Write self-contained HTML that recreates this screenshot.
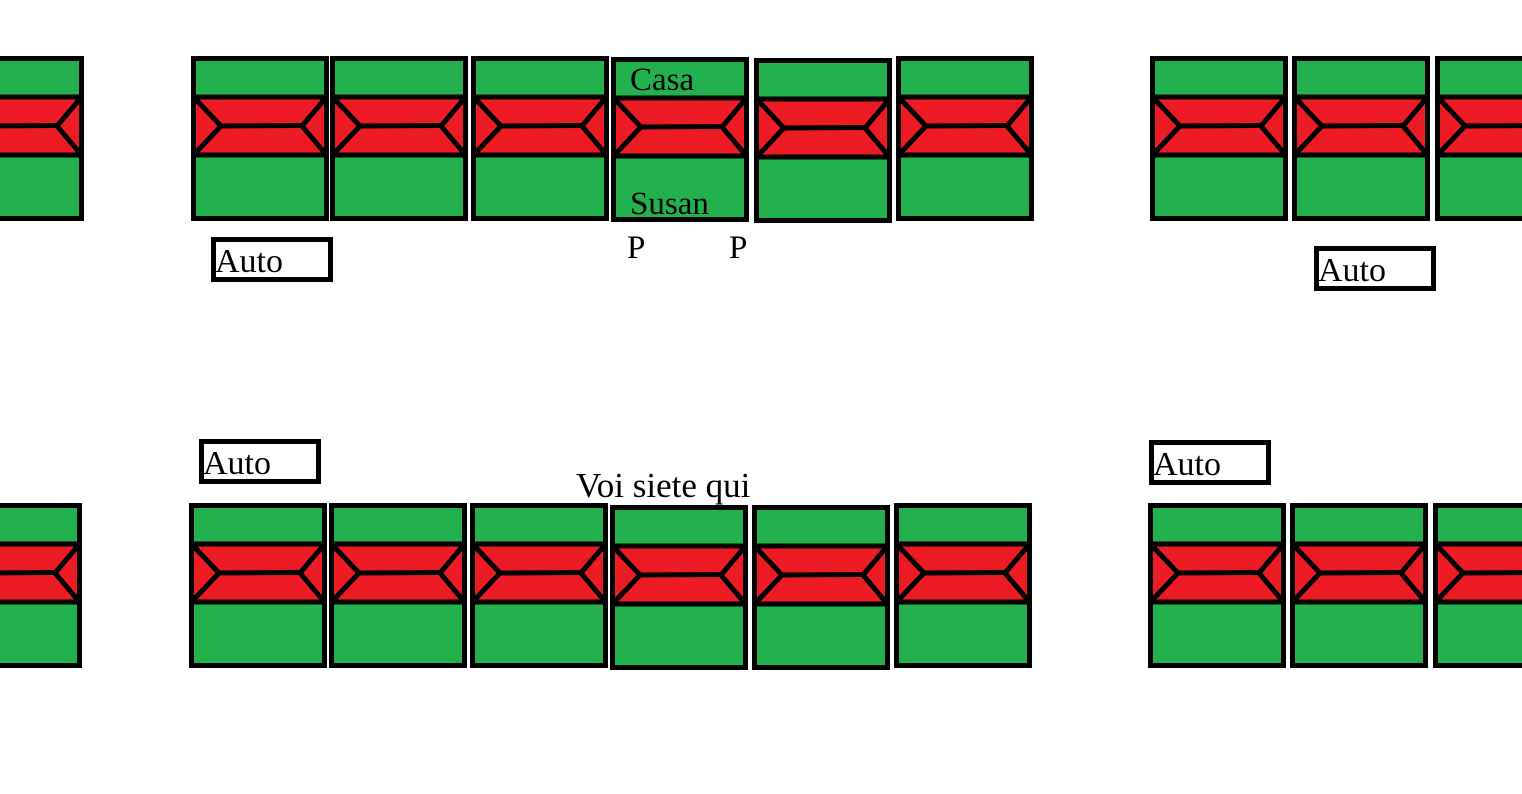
<!DOCTYPE html>
<html><head><meta charset="utf-8"><style>
html,body{margin:0;padding:0;background:#fff;width:1522px;height:794px;overflow:hidden}
svg{display:block}
text{font-family:"Liberation Serif",serif;fill:#000}
</style></head><body>
<svg width="1522" height="794" viewBox="0 0 1522 794" xmlns="http://www.w3.org/2000/svg" xmlns:xlink="http://www.w3.org/1999/xlink">
<defs>
<g id="h" stroke="#000" stroke-width="5">
<rect x="2.5" y="2.5" width="133" height="160" fill="#22b14c"/>
<rect x="2.5" y="41" width="133" height="58" fill="#ed1c24"/>
<polyline fill="none" points="2.5,41 30,70 2.5,99"/>
<polyline fill="none" points="135.5,41 111,70 135.5,99"/>
<line x1="30" y1="70" x2="111" y2="69.5"/>
</g>
</defs>
<use href="#h" xlink:href="#h" x="-54" y="56"/>
<use href="#h" xlink:href="#h" x="191" y="56"/>
<use href="#h" xlink:href="#h" x="330" y="56"/>
<use href="#h" xlink:href="#h" x="471" y="56"/>
<use href="#h" xlink:href="#h" x="611" y="57"/>
<use href="#h" xlink:href="#h" x="754" y="58"/>
<use href="#h" xlink:href="#h" x="896" y="56"/>
<use href="#h" xlink:href="#h" x="1150" y="56"/>
<use href="#h" xlink:href="#h" x="1292" y="56"/>
<use href="#h" xlink:href="#h" x="1435" y="56"/>

<use href="#h" xlink:href="#h" x="-56" y="503"/>
<use href="#h" xlink:href="#h" x="189" y="503"/>
<use href="#h" xlink:href="#h" x="329" y="503"/>
<use href="#h" xlink:href="#h" x="470" y="503"/>
<use href="#h" xlink:href="#h" x="610" y="505"/>
<use href="#h" xlink:href="#h" x="752" y="505"/>
<use href="#h" xlink:href="#h" x="894" y="503"/>
<use href="#h" xlink:href="#h" x="1148" y="503"/>
<use href="#h" xlink:href="#h" x="1290" y="503"/>
<use href="#h" xlink:href="#h" x="1433" y="503"/>

<g fill="#fff" stroke="#000" stroke-width="5">
<rect x="213.5" y="239.5" width="117" height="40"/>
<rect x="1316.5" y="248.5" width="117" height="40"/>
<rect x="201.5" y="441.5" width="117" height="40"/>
<rect x="1151.5" y="442.5" width="117" height="40"/>
</g>
<g font-size="34">
<text x="215" y="272">Auto</text>
<text x="1318" y="281">Auto</text>
<text x="203" y="474">Auto</text>
<text x="1153" y="475">Auto</text>
</g>
<g font-size="33">
<text x="630" y="90">Casa</text>
<text x="630" y="214">Susan</text>
<text x="627" y="258">P</text>
<text x="729" y="258">P</text>
<text x="576" y="497" font-size="35">Voi siete qui</text>
</g>
</svg>
</body></html>
